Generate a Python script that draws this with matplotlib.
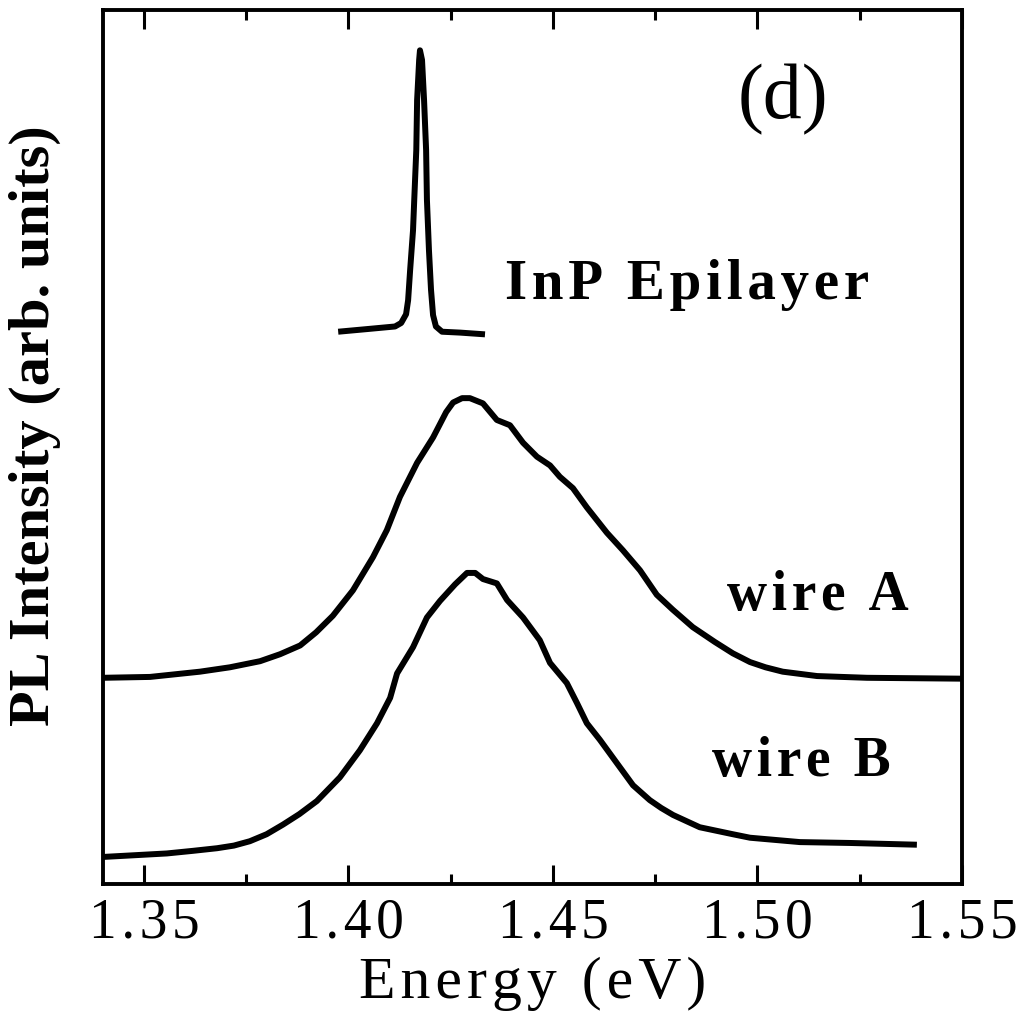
import numpy as np
import matplotlib
matplotlib.use("Agg")
import matplotlib.pyplot as plt

plt.rcParams['font.family'] = ['Liberation Serif', 'DejaVu Serif']

# PL spectra (energy in eV, intensity in arb. units)
e_wireA = [1.3400, 1.3515, 1.3637, 1.3710, 1.3784, 1.3833, 1.3882, 1.3921, 1.3962,
           1.4011, 1.4060, 1.4094, 1.4126, 1.4168, 1.4207, 1.4239, 1.4256, 1.4278,
           1.4297, 1.4329, 1.4363, 1.4395, 1.4427, 1.4461, 1.4493, 1.4517, 1.4549,
           1.4583, 1.4632, 1.4671, 1.4713, 1.4754, 1.4793, 1.4842, 1.4896, 1.4940,
           1.4982, 1.5020, 1.5062, 1.5146, 1.5268, 1.5500]
i_wireA = [0.236, 0.237, 0.243, 0.248, 0.255, 0.263, 0.273, 0.288, 0.307,
           0.336, 0.374, 0.405, 0.443, 0.482, 0.511, 0.540, 0.551, 0.556,
           0.556, 0.550, 0.531, 0.525, 0.505, 0.489, 0.479, 0.466, 0.453,
           0.431, 0.402, 0.382, 0.359, 0.331, 0.314, 0.294, 0.277, 0.264,
           0.254, 0.248, 0.243, 0.238, 0.236, 0.235]

e_wireB = [1.3400, 1.3556, 1.3620, 1.3679, 1.3720, 1.3759, 1.3800, 1.3840, 1.3880,
           1.3923, 1.3979, 1.4028, 1.4070, 1.4102, 1.4119, 1.4158, 1.4192, 1.4224,
           1.4261, 1.4290, 1.4310, 1.4329, 1.4363, 1.4388, 1.4427, 1.4468, 1.4493,
           1.4534, 1.4559, 1.4583, 1.4615, 1.4657, 1.4696, 1.4737, 1.4765, 1.4794,
           1.4859, 1.4940, 1.4982, 1.5104, 1.5226, 1.5390]
i_wireB = [0.031, 0.035, 0.038, 0.041, 0.044, 0.049, 0.057, 0.068, 0.080,
           0.095, 0.122, 0.153, 0.184, 0.213, 0.241, 0.271, 0.305, 0.324,
           0.343, 0.356, 0.356, 0.349, 0.344, 0.325, 0.305, 0.279, 0.253,
           0.230, 0.207, 0.184, 0.165, 0.138, 0.113, 0.096, 0.087, 0.079,
           0.065, 0.057, 0.053, 0.048, 0.047, 0.045]

e_epi = [1.3975, 1.4045, 1.4114, 1.4129, 1.4141, 1.4146, 1.4151, 1.4158, 1.4161,
         1.4166, 1.4168, 1.4173, 1.4175, 1.4180, 1.4185, 1.4190, 1.4192, 1.4197,
         1.4202, 1.4207, 1.4214, 1.4229, 1.4273, 1.4334]
i_epi = [0.632, 0.635, 0.638, 0.642, 0.652, 0.668, 0.703, 0.748, 0.783,
         0.840, 0.897, 0.943, 0.954, 0.943, 0.897, 0.840, 0.783, 0.725,
         0.680, 0.651, 0.638, 0.632, 0.631, 0.629]

xticks = [1.35, 1.40, 1.45, 1.50, 1.55]
xticklabels = ["1.35", "1.40", "1.45", "1.50", "1.55"]


def spaced(s):
    # the original lettering is loosely tracked
    return "\u200a".join(s)


fig = plt.figure(figsize=(10.2, 10.33), dpi=100)
ax = fig.add_axes([0.101, 0.1442, 0.842, 0.846])

lw = 4.3
for e, i in [(e_wireA, i_wireA), (e_wireB, i_wireB), (e_epi, i_epi)]:
    ax.plot(e, i, color='black', lw=lw, solid_joinstyle='round', solid_capstyle='butt')

ax.set_xlim(1.34, 1.55)
ax.set_ylim(0, 1)
ax.set_xticks(xticks)
ax.set_xticklabels([spaced(t) for t in xticklabels])
ax.set_xticks(np.arange(1.375, 1.55, 0.05), minor=True)
ax.set_yticks([])
ax.tick_params(axis='x', which='both', direction='in', top=True, width=2.2,
               labelsize=40, pad=10)
ax.tick_params(axis='x', which='major', length=14)
ax.tick_params(axis='x', which='minor', length=7)
for sp in ax.spines.values():
    sp.set_linewidth(2.8)

ax.set_xlabel(spaced("Energy (eV)"), fontsize=43, labelpad=5)
fig.text(35 / 1020, 1 - 426 / 1033, "PL Intensity (arb. units)", rotation=90,
         ha='center', va='center', fontsize=42, fontweight='bold')

ax.text(1.4383, 0.670, spaced("InP Epilayer"), fontsize=41, fontweight='bold', va='baseline')
ax.text(1.4926, 0.3135, spaced("wire A"), fontsize=40, fontweight='bold', va='baseline')
ax.text(1.4889, 0.1236, spaced("wire B"), fontsize=40, fontweight='bold', va='baseline')
ax.text(1.5062, 0.876, "(d)", fontsize=56, ha='center', va='baseline')

fig.savefig("out.png", dpi=100)
